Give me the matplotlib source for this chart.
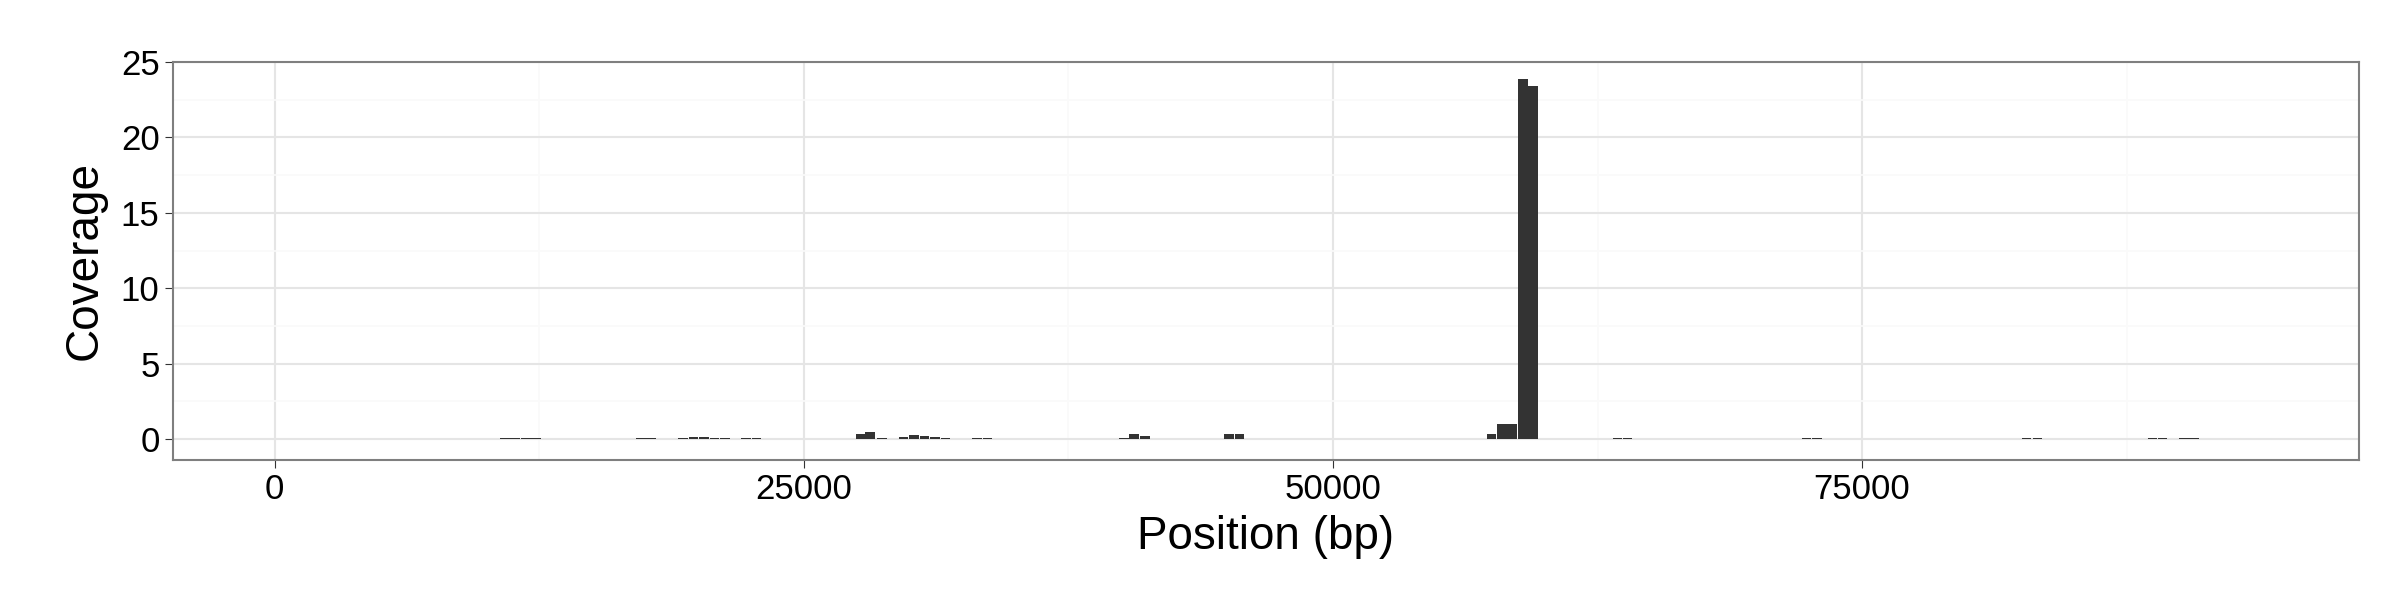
import matplotlib
matplotlib.use("Agg")
import matplotlib.pyplot as plt
plt.rcParams['font.family'] = ['Liberation Sans', 'DejaVu Sans']

positions = [10870, 11360, 11860, 12350, 17300, 17770, 19280, 19790, 20270, 20780, 21270,
             22260, 22750, 27700, 28130, 28700, 29710, 30200, 30700, 31190, 31690, 33180, 33670,
             40120, 40600, 41110, 45090, 45580, 57490, 57980, 58470, 58970, 59460,
             63450, 63910, 72370, 72870, 82770, 83290, 88720, 89200, 90200, 90690]
coverage = [0.05, 0.05, 0.1, 0.1, 0.05, 0.05, 0.05, 0.16, 0.16, 0.1, 0.05,
            0.1, 0.1, 0.36, 0.5, 0.1, 0.16, 0.29, 0.23, 0.16, 0.05, 0.05, 0.05,
            0.1, 0.36, 0.23, 0.36, 0.36, 0.37, 1.0, 1.0, 23.85, 23.37,
            0.1, 0.1, 0.05, 0.05, 0.05, 0.05, 0.05, 0.05, 0.05, 0.05]
xticks = [0, 25000, 50000, 75000]
yticks = [0, 5, 10, 15, 20, 25]

fig = plt.figure(figsize=(24, 6), dpi=100)
ax = fig.add_axes([0.072, 0.233, 0.911, 0.664])
ax.bar(positions, coverage, width=450, color="#333333", zorder=3)
ax.set_xlim(-4820, 98490)
ax.set_ylim(-1.39, 25)
ax.set_xticks(xticks)
ax.set_xticklabels([str(t) for t in xticks])
ax.set_yticks(yticks)
ax.set_xticks([12500, 37500, 62500, 87500], minor=True)
ax.set_yticks([2.5, 7.5, 12.5, 17.5, 22.5], minor=True)
ax.grid(True, which="major", color="#e5e5e5", linewidth=1.5, zorder=0)
ax.grid(True, which="minor", color="#fafafa", linewidth=1.2, zorder=0)
ax.tick_params(which="minor", length=0)
ax.tick_params(which="major", length=6, color="#333333", labelsize=25, labelcolor="black")
for s in ax.spines.values():
    s.set_color("#7f7f7f")
    s.set_linewidth(1.5)
ax.set_xlabel("Position (bp)", fontsize=33, labelpad=6)
ax.set_ylabel("Coverage", fontsize=33, labelpad=10)
fig.savefig("out.png", dpi=100)
